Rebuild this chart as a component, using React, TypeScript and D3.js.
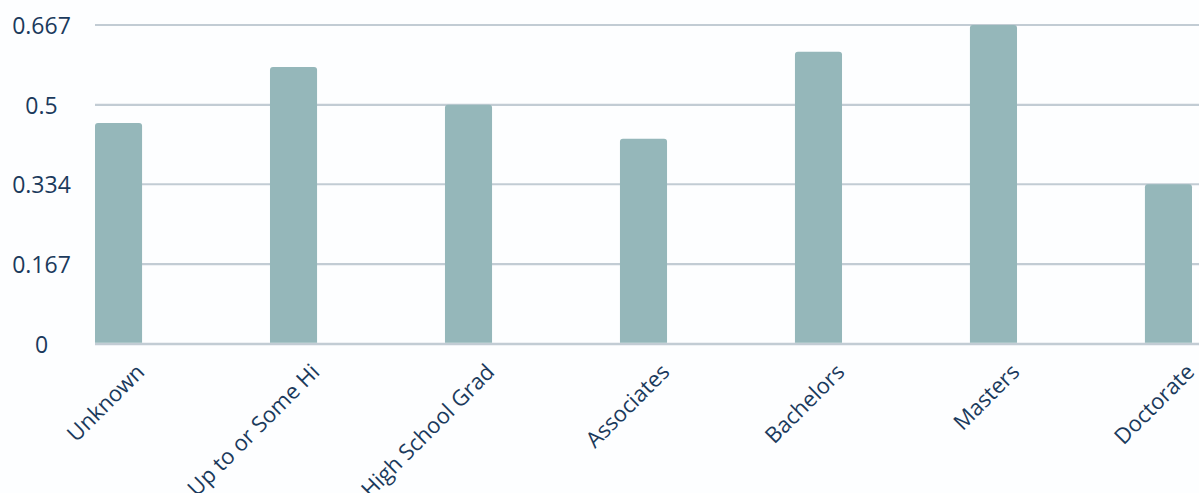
import React from "react";
import * as d3 from "d3";

const categories = ["Unknown", "Up to or Some Hi", "High School Grad", "Associates", "Bachelors", "Masters", "Doctorate"];
const values = [0.462, 0.579, 0.5, 0.429, 0.611, 0.667, 0.334];
const tickValues = [0, 0.167, 0.334, 0.5, 0.667];
const tickLabels = ["0", "0.167", "0.334", "0.5", "0.667"];

const W = 1199, H = 493;
const left = 95, right = 1192, top = 25, bottom = 344;

function roundTopRect(x: number, y: number, w: number, h: number, r: number) {
  const rr = Math.min(r, h, w / 2);
  return `M${x},${y + h}V${y + rr}Q${x},${y} ${x + rr},${y}H${x + w - rr}Q${x + w},${y} ${x + w},${y + rr}V${y + h}Z`;
}

export default function App() {
  const x = d3.scaleBand<string>().domain(categories).range([left, right]).paddingInner(0.731).paddingOuter(0);
  const y = d3.scaleLinear().domain([0, 0.667]).range([bottom, top]);
  const textColor = "#1b3a5c";
  const font = "'Open Sans', sans-serif";
  return (
    <svg width={W} height={H} style={{ position: "absolute", left: 0, top: 0, background: "#fdfeff" }}>
      {tickValues.map((t, i) => (
        <g key={i}>
          <line x1={left} x2={W} y1={y(t)} y2={y(t)} stroke="#c2ccd4" strokeWidth={i === 0 ? 2.6 : 2.2} />
          <text x={41.5} y={y(t)} textAnchor="middle" dominantBaseline="central" fill={textColor} fontFamily={font} fontSize={23}>{tickLabels[i]}</text>
        </g>
      ))}
      {categories.map((c, i) => {
        const bx = x(c)!;
        const by = y(values[i]);
        return <path key={c} d={roundTopRect(bx, by, x.bandwidth(), bottom - 1.3 - by, 3)} fill="#95b7ba" />;
      })}
      {categories.map((c) => {
        const cx = x(c)! + x.bandwidth() / 2 + 21;
        return (
          <text key={c} transform={`translate(${cx},${367}) rotate(-45)`} textAnchor="end" dominantBaseline="central" fill={textColor} fontFamily={font} fontSize={22}>{c}</text>
        );
      })}
    </svg>
  );
}
